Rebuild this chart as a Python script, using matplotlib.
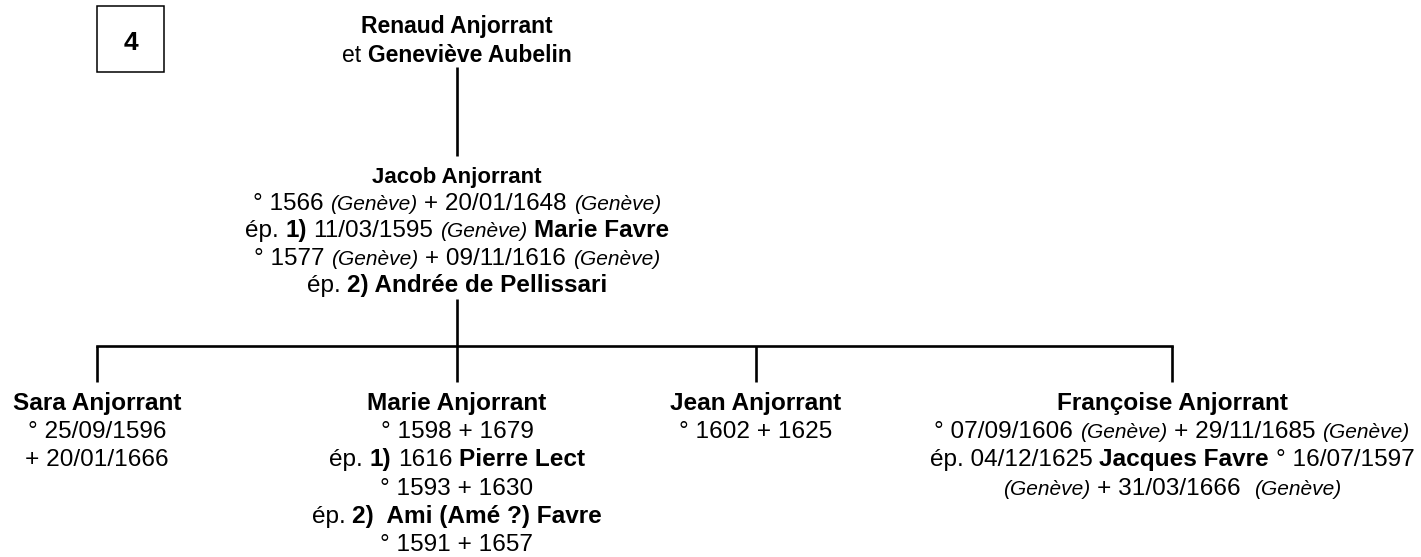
import re
import matplotlib.pyplot as plt
from matplotlib.font_manager import FontProperties
from matplotlib.patches import Rectangle

plt.rcParams['font.family'] = ['Liberation Sans', 'DejaVu Sans']

# Family data (** = bold, _ = italic)
generation_label = "4"

parents = ["**Renaud Anjorrant**",
           "et **Geneviève Aubelin**"]

jacob = ["**Jacob Anjorrant**",
         "° 1566 _(Genève)_ + 20/01/1648 _(Genève)_",
         "ép. **1)** 11/03/1595 _(Genève)_ **Marie Favre**",
         "° 1577 _(Genève)_ + 09/11/1616 _(Genève)_",
         "ép. **2) Andrée de Pellissari**"]

sara = ["**Sara Anjorrant**",
        "° 25/09/1596",
        "+ 20/01/1666"]

marie = ["**Marie Anjorrant**",
         "° 1598 + 1679",
         "ép. **1)** 1616 **Pierre Lect**",
         "° 1593 + 1630",
         "ép. **2)  Ami (Amé ?) Favre**",
         "° 1591 + 1657"]

jean = ["**Jean Anjorrant**",
        "° 1602 + 1625"]

francoise = ["**Françoise Anjorrant**",
             "° 07/09/1606 _(Genève)_ + 29/11/1685 _(Genève)_",
             "ép. 04/12/1625 **Jacques Favre** ° 16/07/1597",
             "_(Genève)_ + 31/03/1666  _(Genève)_"]

children = [sara, marie, jean, francoise]

# Layout (pixels, y down)
W, H = 1421, 557
center_x = 457
children_x = [97, 457, 756, 1172]
bar_y = 346

fig = plt.figure(figsize=(W / 100, H / 100), dpi=100)
ax = fig.add_axes([0, 0, 1, 1])
ax.set_xlim(0, W)
ax.set_ylim(H, 0)
ax.axis('off')
renderer = fig.canvas.get_renderer()


def make_fonts(size, italic_size):
    return {
        'r': FontProperties(family='Liberation Sans', size=size),
        'b': FontProperties(family='Liberation Sans', size=size, weight='bold'),
        'i': FontProperties(family='Liberation Sans', size=italic_size, style='italic'),
    }


def text_width(txt, fp):
    w, _, _ = renderer.get_text_width_height_descent(txt, fp, ismath=False)
    return w


def space_width(fp):
    return text_width("a a", fp) - text_width("aa", fp)


def parse(line):
    segs = []
    for part in re.split(r'(\*\*.*?\*\*|_.*?_)', line):
        if not part:
            continue
        if part.startswith('**'):
            segs.append((part[2:-2], 'b'))
        elif part.startswith('_'):
            segs.append((part[1:-1], 'i'))
        else:
            segs.append((part, 'r'))
    return segs


def draw_line(x, y, line, fonts):
    # lay out mixed-style pieces, centred on x, baseline at y
    items = []
    for txt, st in parse(line):
        fp = fonts[st]
        sw = space_width(fp)
        core = txt.strip(' ')
        if not core:
            items.append((len(txt) * sw, '', fp, 0, 0))
            continue
        lead = len(txt) - len(txt.lstrip(' '))
        trail = len(txt) - len(txt.rstrip(' '))
        items.append((lead * sw, core, fp, text_width(core, fp), trail * sw))
    total = sum(a + w + c for a, _, _, w, c in items) - items[0][0] - items[-1][4]
    cur = x - total / 2 - items[0][0]
    for lead, core, fp, w, trail in items:
        cur += lead
        if core:
            ax.text(cur, y, core, fontproperties=fp, ha='left', va='baseline', color='black')
        cur += w + trail


def draw_block(x, y0, step, lines, fonts, head_fonts=None):
    for i, line in enumerate(lines):
        f = head_fonts if (i == 0 and head_fonts) else fonts
        draw_line(x, y0 + i * step, line, f)


# generation box
ax.add_patch(Rectangle((97, 6), 67, 66, fill=False, lw=1.1, ec='black'))
ax.text(131, 43, generation_label, ha='center', va='center', fontsize=19, fontweight='bold')

# text blocks
draw_block(center_x, 33, 29.5, parents, make_fonts(16.5, 13.5))
draw_block(center_x, 183, 27.2, jacob, make_fonts(17.5, 15), head_fonts=make_fonts(16, 13))
child_fonts = make_fonts(17.6, 15)
for cx, person in zip(children_x, children):
    draw_block(cx, 410, 28.2, person, child_fonts)

# connectors
lw = 1.9
ax.plot([center_x, center_x], [67, 156], color='black', lw=lw, solid_capstyle='butt')
ax.plot([center_x, center_x], [299, bar_y], color='black', lw=lw, solid_capstyle='butt')
ax.plot([children_x[0], children_x[-1]], [bar_y, bar_y], color='black', lw=lw, solid_capstyle='projecting')
for cx in children_x:
    ax.plot([cx, cx], [bar_y, 382], color='black', lw=lw, solid_capstyle='butt')

fig.savefig('out.png', dpi=100)
